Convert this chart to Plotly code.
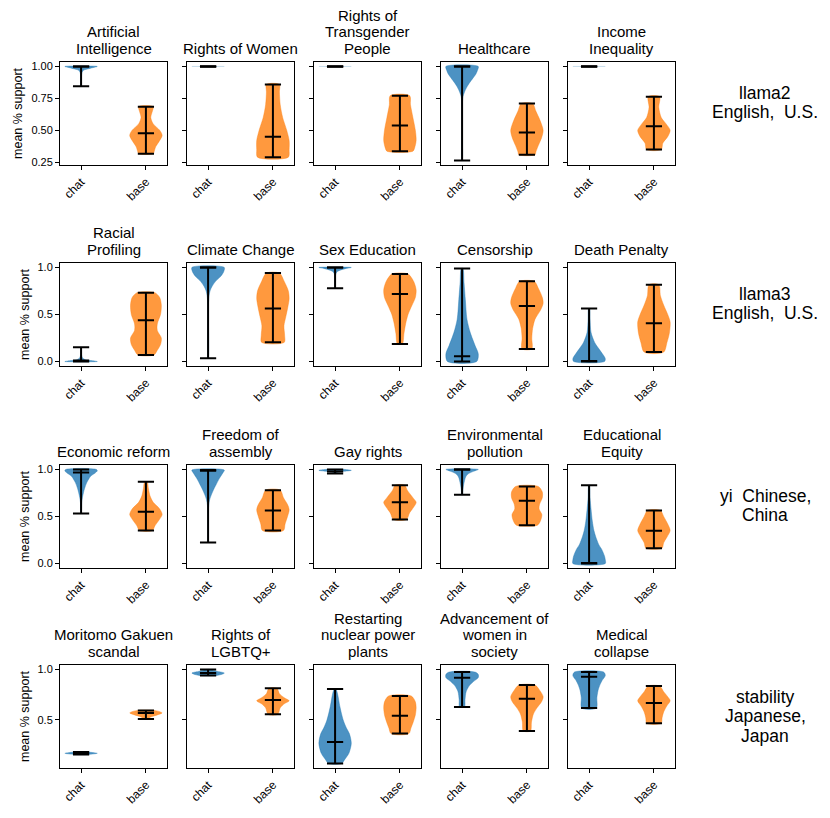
import plotly.graph_objects as go

# ---------------- data ----------------
TITLES = [
    "Artificial<br>Intelligence", "Rights of Women", "Rights of<br>Transgender<br>People", "Healthcare", "Income<br>Inequality",
    "Racial<br>Profiling", "Climate Change", "Sex Education", "Censorship", "Death Penalty",
    "Economic reform", "Freedom of<br>assembly", "Gay rights", "Environmental<br>pollution", "Educational<br>Equity",
    "Moritomo Gakuen<br>scandal", "Rights of<br>LGBTQ+", "Restarting<br>nuclear power<br>plants", "Advancement of<br>women in<br>society", "Medical<br>collapse",
]
ROW_LABELS = [
    "llama2<br>English,\u00a0\u00a0U.S.",
    "llama3<br>English,\u00a0\u00a0U.S.",
    "yi\u00a0\u00a0Chinese,<br>China",
    "stability<br>Japanese,<br>Japan",
]
CATEGORIES = ["chat", "base"]

ROW_TICKS = [[0.25, 0.5, 0.75, 1.0], [0.0, 0.5, 1.0], [0.0, 0.5, 1.0], [0.5, 1.0]]
ROW_TICKTEXT = [["0.25", "0.50", "0.75", "1.00"], ["0.0", "0.5", "1.0"], ["0.0", "0.5", "1.0"], ["0.5", "1.0"]]

# medians
CHAT_MEDIAN = [1.0, 1.0, 1.0, 1.0, 1.0,
               0.01, 1.0, 1.0, 0.056, 0.005,
               0.968, 0.985, 0.979, 1.0, 0.005,
               0.17, 0.964, 0.283, 0.918, 0.928]
BASE_MEDIAN = [0.477, 0.45, 0.537, 0.482, 0.531,
               0.44, 0.563, 0.718, 0.59, 0.408,
               0.55, 0.564, 0.652, 0.667, 0.348,
               0.569, 0.697, 0.543, 0.71, 0.668]

# density profiles: support values (top -> bottom) and relative widths
CHAT_Y = [
    [1.0, 0.99, 0.98, 0.97, 0.95, 0.90, 0.844],
    [1.0],
    [1.0],
    [1.0, 0.97, 0.94, 0.91, 0.87, 0.84, 0.80, 0.76, 0.70, 0.5, 0.263],
    [1.0],
    [0.151, 0.08, 0.04, 0.02, 0.01, 0.0],
    [1.0, 0.95, 0.90, 0.85, 0.80, 0.75, 0.70, 0.60, 0.035],
    [1.0, 0.99, 0.97, 0.95, 0.92, 0.778],
    [0.99, 0.84, 0.66, 0.45, 0.31, 0.17, 0.08, 0.0],
    [0.563, 0.45, 0.31, 0.20, 0.10, 0.03, 0.0],
    [1.0, 0.985, 0.96, 0.93, 0.86, 0.80, 0.755, 0.70, 0.65, 0.532],
    [0.993, 0.96, 0.90, 0.84, 0.79, 0.73, 0.68, 0.62, 0.5, 0.223],
    [1.0, 0.99, 0.98, 0.97, 0.957],
    [1.0, 0.98, 0.95, 0.92, 0.88, 0.82, 0.76, 0.73],
    [0.833, 0.70, 0.58, 0.45, 0.35, 0.29, 0.20, 0.15, 0.08, 0.04, 0.0],
    [0.184, 0.176, 0.17, 0.165, 0.158],
    [1.0, 0.98, 0.965, 0.955, 0.94],
    [0.806, 0.76, 0.63, 0.50, 0.42, 0.365, 0.27, 0.17, 0.11, 0.069],
    [0.974, 0.95, 0.92, 0.88, 0.84, 0.78, 0.70, 0.628],
    [0.974, 0.94, 0.89, 0.84, 0.79, 0.72, 0.618],
]
CHAT_W = [
    [1.0, 0.7, 0.4, 0.15, 0.05, 0.02, 0.01],
    [1.0],
    [1.0],
    [1.0, 0.95, 0.85, 0.68, 0.45, 0.3, 0.15, 0.05, 0.02, 0.01, 0.01],
    [1.0],
    [0.0, 0.02, 0.08, 0.25, 0.6, 1.0],
    [1.0, 0.95, 0.75, 0.45, 0.25, 0.12, 0.06, 0.02, 0.01],
    [1.0, 0.7, 0.3, 0.1, 0.03, 0.0],
    [0.05, 0.12, 0.2, 0.3, 0.5, 0.8, 1.0, 0.9],
    [0.03, 0.06, 0.12, 0.35, 0.75, 1.0, 0.95],
    [0.95, 1.0, 0.85, 0.6, 0.35, 0.22, 0.15, 0.08, 0.04, 0.01],
    [1.0, 0.9, 0.68, 0.5, 0.35, 0.2, 0.1, 0.04, 0.01, 0.0],
    [0.6, 1.0, 0.5, 0.15, 0.02],
    [1.0, 0.7, 0.35, 0.22, 0.15, 0.08, 0.04, 0.03],
    [0.02, 0.06, 0.12, 0.2, 0.3, 0.4, 0.6, 0.78, 0.95, 1.0, 1.0],
    [0.3, 0.8, 1.0, 0.8, 0.3],
    [0.1, 0.6, 1.0, 0.9, 0.5],
    [0.05, 0.15, 0.3, 0.5, 0.7, 0.88, 1.0, 0.85, 0.6, 0.4],
    [0.8, 1.0, 1.0, 0.7, 0.45, 0.25, 0.18, 0.15],
    [0.9, 1.0, 0.8, 0.65, 0.55, 0.48, 0.45],
]
BASE_Y = [
    [0.685, 0.65, 0.60, 0.55, 0.50, 0.46, 0.42, 0.37, 0.33, 0.316],
    [0.859, 0.80, 0.70, 0.60, 0.50, 0.42, 0.35, 0.289],
    [0.771, 0.70, 0.60, 0.50, 0.42, 0.36, 0.336],
    [0.709, 0.65, 0.58, 0.50, 0.44, 0.38, 0.33, 0.308],
    [0.763, 0.68, 0.60, 0.55, 0.50, 0.45, 0.40, 0.349],
    [0.732, 0.68, 0.60, 0.50, 0.40, 0.33, 0.25, 0.18, 0.12, 0.07],
    [0.94, 0.85, 0.75, 0.67, 0.58, 0.48, 0.38, 0.28, 0.204],
    [0.93, 0.85, 0.76, 0.68, 0.60, 0.50, 0.40, 0.30, 0.187],
    [0.852, 0.78, 0.68, 0.62, 0.55, 0.45, 0.35, 0.25, 0.134],
    [0.817, 0.70, 0.60, 0.50, 0.42, 0.30, 0.20, 0.10],
    [0.869, 0.80, 0.72, 0.65, 0.58, 0.52, 0.46, 0.40, 0.351],
    [0.78, 0.70, 0.62, 0.57, 0.50, 0.42, 0.351],
    [0.833, 0.78, 0.70, 0.65, 0.60, 0.54, 0.468],
    [0.819, 0.76, 0.70, 0.63, 0.58, 0.52, 0.46, 0.408],
    [0.564, 0.50, 0.42, 0.35, 0.28, 0.22, 0.163],
    [0.595, 0.585, 0.57, 0.55, 0.53, 0.51],
    [0.813, 0.76, 0.72, 0.69, 0.66, 0.62, 0.556],
    [0.737, 0.68, 0.62, 0.55, 0.48, 0.42, 0.365],
    [0.845, 0.79, 0.73, 0.68, 0.62, 0.56, 0.48, 0.391],
    [0.836, 0.78, 0.73, 0.69, 0.64, 0.58, 0.52, 0.467],
]
BASE_W = [
    [0.45, 0.4, 0.3, 0.45, 0.85, 1.0, 0.85, 0.6, 0.5, 0.45],
    [0.4, 0.4, 0.45, 0.6, 0.85, 1.0, 1.0, 0.95],
    [0.6, 0.65, 0.8, 0.95, 1.0, 0.9, 0.8],
    [0.35, 0.55, 0.8, 1.0, 0.9, 0.7, 0.55, 0.5],
    [0.35, 0.3, 0.45, 0.75, 1.0, 0.85, 0.55, 0.45],
    [0.55, 0.85, 0.95, 0.9, 0.7, 0.7, 0.95, 0.9, 0.7, 0.5],
    [0.4, 0.7, 0.95, 1.0, 0.92, 0.8, 0.68, 0.72, 0.7],
    [0.5, 0.85, 1.0, 0.95, 0.75, 0.5, 0.35, 0.25, 0.15],
    [0.45, 0.7, 0.95, 1.0, 0.85, 0.5, 0.35, 0.3, 0.3],
    [0.3, 0.4, 0.6, 0.85, 1.0, 0.95, 0.8, 0.6],
    [0.08, 0.15, 0.25, 0.45, 0.85, 1.0, 0.8, 0.55, 0.4],
    [0.45, 0.65, 0.92, 1.0, 0.9, 0.75, 0.65],
    [0.3, 0.45, 0.8, 1.0, 0.85, 0.6, 0.4],
    [0.7, 0.95, 0.95, 0.78, 0.75, 0.92, 0.85, 0.65],
    [0.4, 0.6, 0.85, 1.0, 0.8, 0.6, 0.5],
    [0.5, 0.8, 1.0, 0.7, 0.3, 0.1],
    [0.25, 0.4, 0.7, 1.0, 0.7, 0.45, 0.3],
    [0.7, 0.95, 1.0, 0.95, 0.82, 0.68, 0.55],
    [0.5, 0.8, 1.0, 0.9, 0.62, 0.4, 0.28, 0.22],
    [0.35, 0.6, 0.85, 1.0, 0.8, 0.6, 0.5, 0.45],
]

# ---------------- layout constants (pixel positions in the window) ----------------
OFF = 8                      # default page body margin
FW, FH = 830 - OFF, 818 - OFF
COL_LEFT = [60, 187, 314, 441, 568]
COL_W = 107
ROW_TOP = [61, 263, 466, 667]
ROW_H = 104
ROW_LABEL_CENTER = [102, 304, 507, 719]
ROW_LABEL_PITCH = 19.8
TITLE_PITCH = 16.7
FONT = "Liberation Sans, Arial, Helvetica, sans-serif"
FILL = ["rgba(31,119,180,0.8)", "rgba(255,127,14,0.8)"]
FAINT = ["rgba(31,119,180,0.25)", "rgba(255,127,14,0.25)"]
POS = [1, 2]
HALF = 0.25   # half of violin max width
CAP = 0.125   # half length of cap / median lines


def px_x(px):
    return (px - OFF) / FW


def px_y(py):
    return 1 - (py - OFF) / FH


fig = go.Figure()
layout = dict(
    width=FW, height=FH, autosize=False,
    margin=dict(l=0, r=0, t=0, b=0),
    paper_bgcolor="white", plot_bgcolor="white",
    showlegend=False,
    font=dict(family=FONT, color="black"),
)
annotations = []

for r in range(4):
    lo = min(min(CHAT_Y[r * 5 + c] + BASE_Y[r * 5 + c]) for c in range(5))
    hi = max(max(CHAT_Y[r * 5 + c] + BASE_Y[r * 5 + c]) for c in range(5))
    pad = 0.05 * (hi - lo)
    yr = [lo - pad, hi + pad]
    for c in range(5):
        i = r * 5 + c
        idx = i + 1
        xa = "x" if idx == 1 else f"x{idx}"
        ya = "y" if idx == 1 else f"y{idx}"
        xkey = "xaxis" if idx == 1 else f"xaxis{idx}"
        ykey = "yaxis" if idx == 1 else f"yaxis{idx}"
        x0 = px_x(COL_LEFT[c])
        x1 = px_x(COL_LEFT[c] + COL_W)
        y1 = px_y(ROW_TOP[r])
        y0 = px_y(ROW_TOP[r] + ROW_H)

        layout[xkey] = dict(
            domain=[x0, x1], anchor=ya, range=[0.675, 2.325],
            tickmode="array", tickvals=POS, ticktext=CATEGORIES,
            tickangle=-45, tickfont=dict(size=12, family=FONT),
            ticks="outside", ticklen=4, tickcolor="black", tickwidth=1,
            showline=True, linecolor="black", linewidth=1, mirror=True,
            showgrid=False, zeroline=False, fixedrange=True,
        )
        ydict = dict(
            domain=[y0, y1], anchor=xa, range=yr,
            tickmode="array", tickvals=ROW_TICKS[r], ticktext=ROW_TICKTEXT[r],
            tickfont=dict(size=11, family=FONT),
            ticks="outside", ticklen=4, tickcolor="black", tickwidth=1,
            showline=True, linecolor="black", linewidth=1, mirror=True,
            showgrid=False, zeroline=False, fixedrange=True,
            showticklabels=(c == 0),
        )
        if c == 0:
            ydict["title"] = dict(text="mean % support", font=dict(size=12.5, family=FONT), standoff=5)
        layout[ykey] = ydict

        # subplot title, one annotation per line for matplotlib-like spacing
        lines = TITLES[i].split("<br>")
        n = len(lines)
        cx = px_x(COL_LEFT[c] + COL_W / 2)
        for j, line in enumerate(lines):
            base_py = ROW_TOP[r] - 3 - (n - 1 - j) * TITLE_PITCH
            annotations.append(dict(
                text=line, xref="paper", yref="paper",
                x=cx, y=px_y(base_py), xanchor="center", yanchor="bottom",
                showarrow=False, align="center", font=dict(size=15, family=FONT),
            ))

        for k, (ys, ws, med) in enumerate([(CHAT_Y[i], CHAT_W[i], CHAT_MEDIAN[i]),
                                           (BASE_Y[i], BASE_W[i], BASE_MEDIAN[i])]):
            p = POS[k]
            ymin, ymax = min(ys), max(ys)
            if len(ys) > 1:
                xs = [p + HALF * w for w in ws] + [p - HALF * w for w in ws[::-1]]
                yy = list(ys) + list(ys[::-1])
                xs.append(xs[0])
                yy.append(yy[0])
                fig.add_trace(go.Scatter(
                    x=xs, y=yy, xaxis=xa, yaxis=ya, mode="lines",
                    line=dict(color=FILL[k], width=0.5, shape="spline", smoothing=0.8),
                    fill="toself", fillcolor=FILL[k], hoverinfo="skip",
                ))
            else:
                fig.add_trace(go.Scatter(
                    x=[p - HALF, p + HALF], y=[ys[0], ys[0]], xaxis=xa, yaxis=ya,
                    mode="lines", line=dict(color=FAINT[k], width=1), hoverinfo="skip",
                ))
            fig.add_trace(go.Scatter(
                x=[p, p, None, p - CAP, p + CAP, None, p - CAP, p + CAP, None, p - CAP, p + CAP],
                y=[ymin, ymax, None, ymin, ymin, None, ymax, ymax, None, med, med],
                xaxis=xa, yaxis=ya, mode="lines",
                line=dict(color="black", width=2), hoverinfo="skip",
            ))

for r in range(4):
    lines = ROW_LABELS[r].split("<br>")
    n = len(lines)
    for j, line in enumerate(lines):
        cy = ROW_LABEL_CENTER[r] + (j - (n - 1) / 2) * ROW_LABEL_PITCH
        annotations.append(dict(
            text=line, xref="paper", yref="paper",
            x=px_x(765), y=px_y(cy),
            xanchor="center", yanchor="middle",
            showarrow=False, align="center", font=dict(size=17.5, family=FONT),
        ))

layout["annotations"] = annotations
fig.update_layout(**layout)
fig.write_html("out.html")
